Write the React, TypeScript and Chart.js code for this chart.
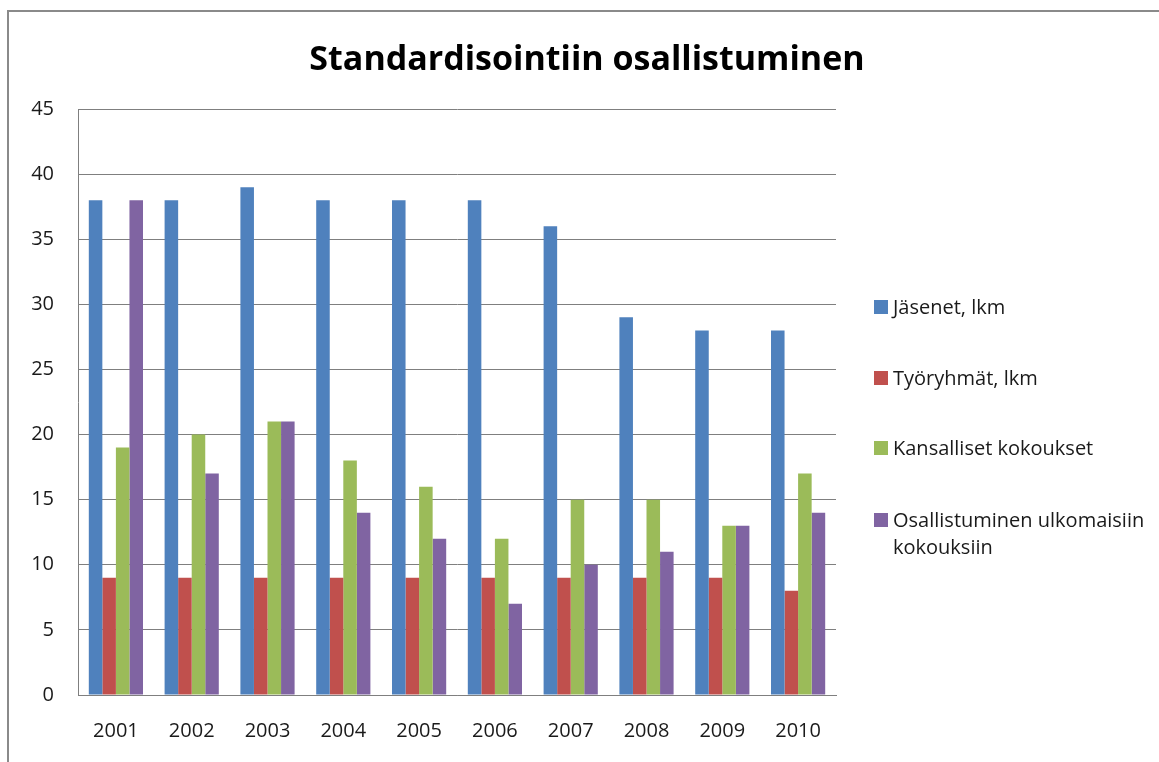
import React, { useEffect, useRef } from "react";
import { Chart, registerables } from "chart.js";

Chart.register(...registerables);

const titleText = "Standardisointiin osallistuminen";
const years = ["2001", "2002", "2003", "2004", "2005", "2006", "2007", "2008", "2009", "2010"];
const jasenet = [38, 38, 39, 38, 38, 38, 36, 29, 28, 28];
const tyoryhmat = [9, 9, 9, 9, 9, 9, 9, 9, 9, 8];
const kansalliset = [19, 20, 21, 18, 16, 12, 15, 15, 13, 17];
const ulkomaiset = [38, 17, 21, 14, 12, 7, 10, 11, 13, 14];
const seriesNames = ["Jäsenet, lkm", "Työryhmät, lkm", "Kansalliset kokoukset", "Osallistuminen ulkomaisiin kokouksiin"];
const legendLines = [["Jäsenet, lkm"], ["Työryhmät, lkm"], ["Kansalliset kokoukset"], ["Osallistuminen ulkomaisiin", "kokouksiin"]];
const seriesColors = ["#4F81BD", "#C0504D", "#9BBB59", "#8064A2"];
const yMin = 0;
const yMax = 45;
const yStep = 5;

const FONT = "'Open Sans', 'Noto Sans', sans-serif";

export default function App() {
  const canvasRef = useRef<HTMLCanvasElement | null>(null);

  useEffect(() => {
    const canvas = canvasRef.current;
    if (!canvas) return;
    const values = [jasenet, tyoryhmat, kansalliset, ulkomaiset];
    const chart = new Chart(canvas, {
      type: "bar",
      data: {
        labels: years,
        datasets: values.map((v, i) => ({
          label: seriesNames[i],
          data: v,
          backgroundColor: seriesColors[i],
          borderWidth: 0,
          barPercentage: 1,
          categoryPercentage: 0.715,
        })),
      },
      options: {
        responsive: false,
        animation: false,
        layout: { padding: { left: 0, right: 323, top: 109, bottom: 0 } },
        plugins: {
          legend: { display: false },
          title: { display: false },
          tooltip: { enabled: false },
        },
        scales: {
          x: {
            grid: { display: false, drawTicks: false },
            border: { display: true, color: "#7f7f7f", width: 1 },
            ticks: {
              color: "#1a1a1a",
              font: { family: FONT, size: 20 },
              padding: 24,
              maxRotation: 0,
            },
            afterFit: (s: any) => {
              s.height = 67;
            },
          },
          y: {
            min: yMin,
            max: yMax,
            ticks: {
              stepSize: yStep,
              color: "#1a1a1a",
              font: { family: FONT, size: 20 },
              padding: 24,
            },
            grid: { color: "#7f7f7f", lineWidth: 1, drawTicks: false },
            border: { display: true, color: "#7f7f7f", width: 1 },
            afterFit: (s: any) => {
              s.width = 78;
            },
          },
        },
      },
    });
    return () => chart.destroy();
  }, []);

  const legendY = [307, 378, 448, 520];

  return (
    <div
      style={{
        position: "fixed",
        left: 0,
        top: 0,
        width: 1159,
        height: 762,
        overflow: "hidden",
        background: "#fff",
        fontFamily: FONT,
      }}
    >
      <div
        style={{
          position: "absolute",
          left: 7,
          top: 10,
          width: 1300,
          height: 900,
          border: "2px solid #8a8a8a",
          boxSizing: "border-box",
        }}
      />
      <canvas ref={canvasRef} width={1159} height={762} style={{ position: "absolute", left: 0, top: 0 }} />
      <div
        style={{
          position: "absolute",
          left: 587 - 400,
          width: 800,
          top: 57 - 24,
          height: 48,
          lineHeight: "48px",
          textAlign: "center",
          fontWeight: 700,
          fontSize: 34,
          color: "#000",
          whiteSpace: "nowrap",
        }}
      >
        {titleText}
      </div>
      {legendLines.map((lines, i) => (
        <div key={i}>
          <div
            style={{
              position: "absolute",
              left: 874,
              top: legendY[i] - 7,
              width: 14,
              height: 14,
              background: seriesColors[i],
            }}
          />
          {lines.map((ln, j) => (
            <div
              key={j}
              style={{
                position: "absolute",
                left: 893,
                top: legendY[i] + j * 27 - 14,
                height: 28,
                lineHeight: "28px",
                fontSize: 20,
                color: "#1a1a1a",
                whiteSpace: "nowrap",
              }}
            >
              {ln}
            </div>
          ))}
        </div>
      ))}
    </div>
  );
}
